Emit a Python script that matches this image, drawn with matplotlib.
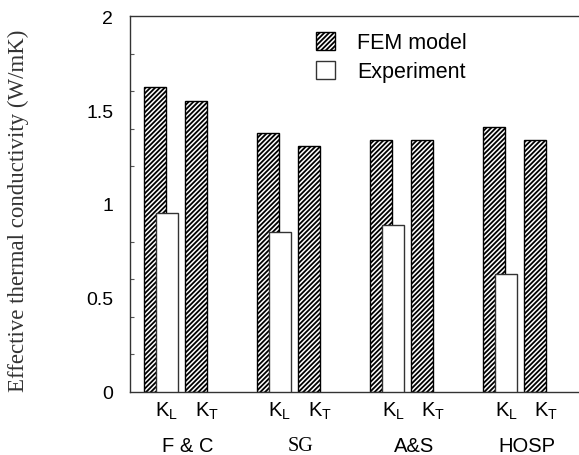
import numpy as np
from matplotlib import pyplot as plt
from matplotlib.patches import Patch

plt.rcParams['font.family'] = ['Liberation Sans', 'DejaVu Sans']
plt.rcParams['mathtext.fontset'] = 'custom'
plt.rcParams['mathtext.rm'] = 'Liberation Sans'
plt.rcParams['hatch.linewidth'] = 1.3

### DATA ###
groups = ['F & C', 'SG', 'A&S', 'HOSP']
fem_KL = [1.62, 1.38, 1.34, 1.41]
fem_KT = [1.55, 1.31, 1.34, 1.34]
exp_KL = [0.95, 0.85, 0.89, 0.63]

x = np.arange(len(groups))
w_fem = 0.195
w_exp = 0.19
off_exp = 0.105
off_kt = 0.36
hatch = '///////'

fig = plt.figure(figsize=(5.79, 4.56), dpi=100)
ax = fig.add_axes([130/579, 63/456, 1 - 130/579, 376/456])

ax.bar(x, fem_KL, w_fem, color='white', edgecolor='black', hatch=hatch,
       linewidth=1.0, zorder=2)
ax.bar(x + off_kt, fem_KT, w_fem, color='white', edgecolor='black', hatch=hatch,
       linewidth=1.0, zorder=2)
ax.bar(x + off_exp, exp_KL, w_exp, color='white', edgecolor='#333333',
       linewidth=1.0, zorder=3)

ax.set_xlim(-0.221, 3.75)
ax.set_ylim(0, 2)

for s in ['left', 'top', 'bottom']:
    ax.spines[s].set_color('#333333')
    ax.spines[s].set_linewidth(1.0)
ax.spines['right'].set_visible(False)

ax.set_xticks([])
ax.set_yticks([0, 0.5, 1, 1.5, 2])
ax.set_yticklabels(['0', '0.5', '1', '1.5', '2'], fontsize=14)
ax.tick_params(axis='y', length=0, pad=12)
ax.set_yticks(np.arange(0.2, 2.0, 0.2), minor=True)
ax.tick_params(axis='y', which='minor', direction='in', length=3, width=0.8, color='#555555')

# sub labels K_L / K_T and group names
for i, g in enumerate(groups):
    ax.text(x[i] + 0.105, -0.1, r'K$_{\rm L}$', ha='center', va='center', fontsize=14.5,
            clip_on=False)
    ax.text(x[i] + 0.46, -0.1, r'K$_{\rm T}$', ha='center', va='center', fontsize=14.5,
            clip_on=False)
    fam = ['Liberation Serif'] if g == 'SG' else ['Liberation Sans']
    ax.text(x[i] + 0.29, -0.285, g, ha='center', va='center', fontsize=14.5,
            family=fam, clip_on=False)

fig.text(18/579, 1 - 211/456, 'Effective thermal conductivity (W/mK)',
         rotation=90, ha='center', va='center', fontsize=16.5, family='Liberation Serif',
         color='#333333')

handles = [Patch(facecolor='white', edgecolor='black', hatch=hatch, linewidth=1.0),
           Patch(facecolor='white', edgecolor='#333333', linewidth=1.0)]
ax.legend(handles, ['FEM model', 'Experiment'], loc='upper left',
          bbox_to_anchor=(301/579, 1 - 18/456), bbox_transform=fig.transFigure,
          frameon=False, fontsize=15.5, handlelength=0.9, handleheight=0.9,
          handletextpad=1.0, labelspacing=0.35, borderpad=0.2)

plt.savefig('out.png', dpi=100)
